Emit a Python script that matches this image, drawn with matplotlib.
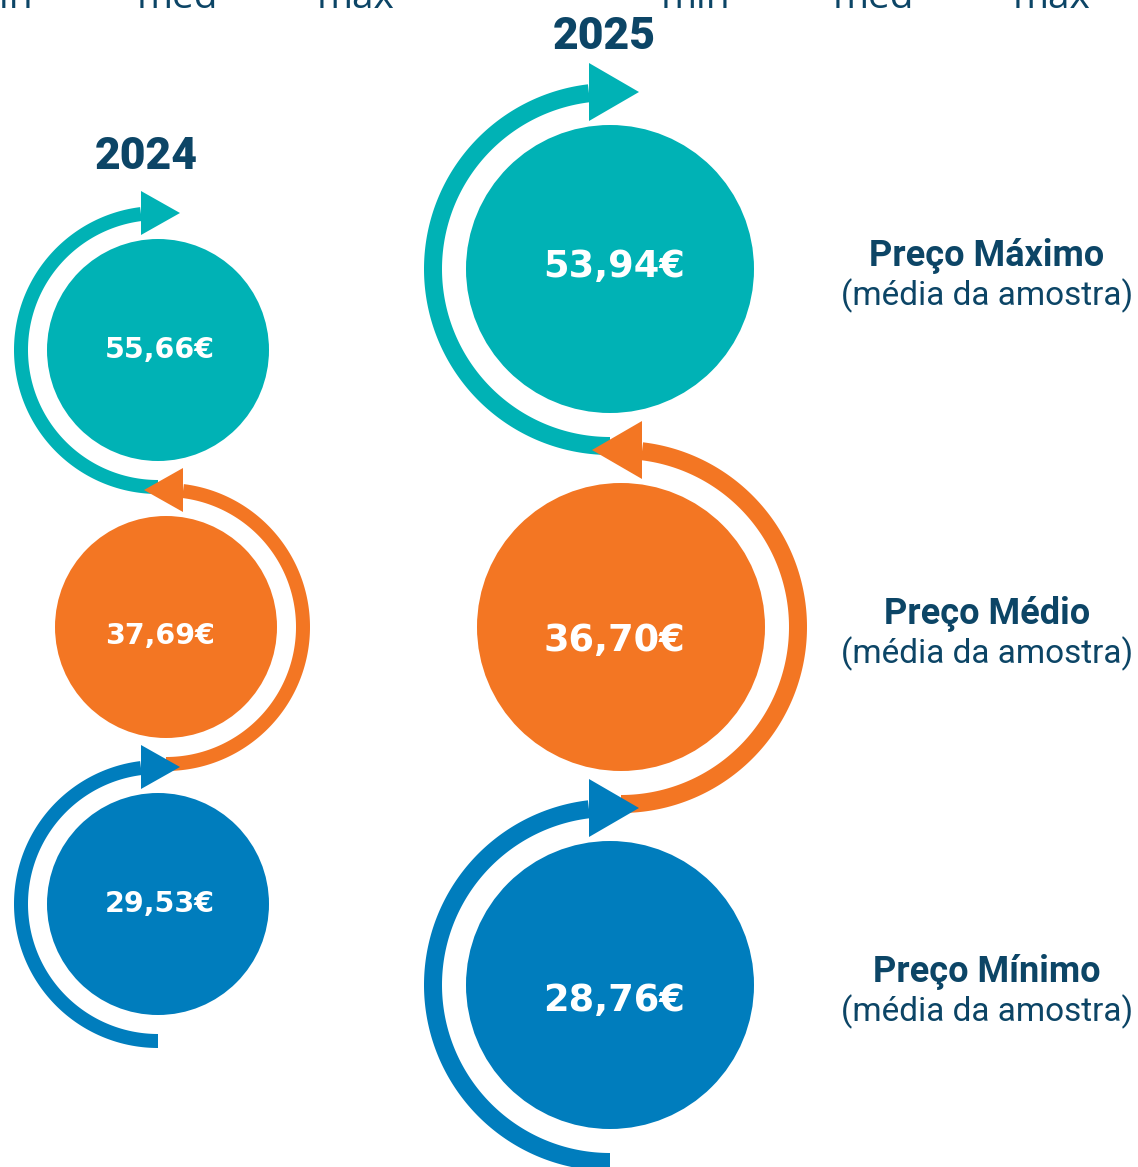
import numpy as np
import matplotlib
matplotlib.use('Agg')
import matplotlib.pyplot as plt
from matplotlib.patches import Circle, Polygon

# data
years = ['2024', '2025']
price_labels = ['Preço Máximo', 'Preço Médio', 'Preço Mínimo']
sub_label = '(média da amostra)'
values_2024 = [55.66, 37.69, 29.53]
values_2025 = [53.94, 36.70, 28.76]
top_labels = ['min', 'med', 'max']

colors = ['#00b2b5', '#f37623', '#007dbd']
navy = '#0c4566'

W, H = 1138, 1167
fig = plt.figure(figsize=(W / 100, H / 100), dpi=100)
ax = fig.add_axes([0, 0, 1, 1])
ax.set_xlim(0, W)
ax.set_ylim(H, 0)
ax.axis('off')

# layout (pixel coords, y down)
layout = {
    '2024': dict(cx=158, cy0=350, dy=277, r=111, ro=144, ri=130, dx_mid=8,
                 ah=22, al=39, base=17, txt_x=160, txt_dy=[0, 9, 0], fs=20.5,
                 year_x=146, year_y=157),
    '2025': dict(cx=610, cy0=269, dy=358, r=144, ro=186, ri=168, dx_mid=11,
                 ah=29, al=50, base=21, txt_x=614, txt_dy=[-2, 13, 15], fs=26.5,
                 year_x=604, year_y=37),
}


def fmt(v):
    return f'{v:.2f}'.replace('.', ',') + '€'


def arc_arrow(cx, cy, ro, ri, t0, t1, tip_dir, base_dx, ah, al, color, z):
    # thick arc band from t0 to t1 (degrees, y down), arrowhead at the top
    t = np.radians(np.linspace(t0, t1, 200))
    outer = np.c_[cx + ro * np.cos(t), cy + ro * np.sin(t)]
    inner = np.c_[cx + ri * np.cos(t[::-1]), cy + ri * np.sin(t[::-1])]
    ax.add_patch(Polygon(np.vstack([outer, inner]), closed=True, fc=color, ec='none', zorder=z))
    rm = (ro + ri) / 2
    bx = cx + base_dx
    ty = cy - rm
    tri = [(bx, ty - ah), (bx, ty + ah), (bx + tip_dir * al, ty)]
    ax.add_patch(Polygon(tri, closed=True, fc=color, ec='none', zorder=z))


for year, vals in zip(years, [values_2024, values_2025]):
    L = layout[year]
    rm = (L['ro'] + L['ri']) / 2
    for i, v in enumerate(vals):
        cx = L['cx'] + (L['dx_mid'] if i == 1 else 0)
        cy = L['cy0'] + i * L['dy']
        ax.add_patch(Circle((cx, cy), L['r'], fc=colors[i], ec='none', zorder=2))
        ang = np.degrees(np.arcsin(L['base'] / rm))
        if i == 1:
            # right side, arrow pointing left
            arc_arrow(cx, cy, L['ro'], L['ri'], 90, -90 + ang, -1, L['base'],
                      L['ah'], L['al'], colors[i], 3 + i)
        else:
            arc_arrow(cx, cy, L['ro'], L['ri'], 90, 270 - ang, 1, -L['base'],
                      L['ah'], L['al'], colors[i], 3 + i)
        ax.text(L['txt_x'], cy + L['txt_dy'][i], fmt(v), color='white',
                fontsize=L['fs'], fontweight='heavy', family='DejaVu Sans',
                ha='center', va='center', zorder=10)
    ax.text(L['year_x'], L['year_y'], year, color=navy, fontsize=32,
            fontweight='black', family='Roboto', ha='center', va='center')

# right-hand labels
for i, lab in enumerate(price_labels):
    y = layout['2025']['cy0'] + i * layout['2025']['dy']
    ax.text(987, y - 13, lab, color=navy, fontsize=26, fontweight='bold',
            family='Roboto', ha='center', va='center')
    ax.text(987, y + 27, sub_label, color=navy, fontsize=24,
            family='Roboto', ha='center', va='center')

# cut-off labels at the very top (cropped in the original too)
for xs in ([-2, 177, 356], [695, 873, 1052]):
    for x, lab in zip(xs, top_labels):
        ax.text(x, 8, lab, color=navy, fontsize=28, fontweight='normal',
                family='Open Sans', ha='center', va='baseline')

fig.savefig('out.png', dpi=100, facecolor='white')
